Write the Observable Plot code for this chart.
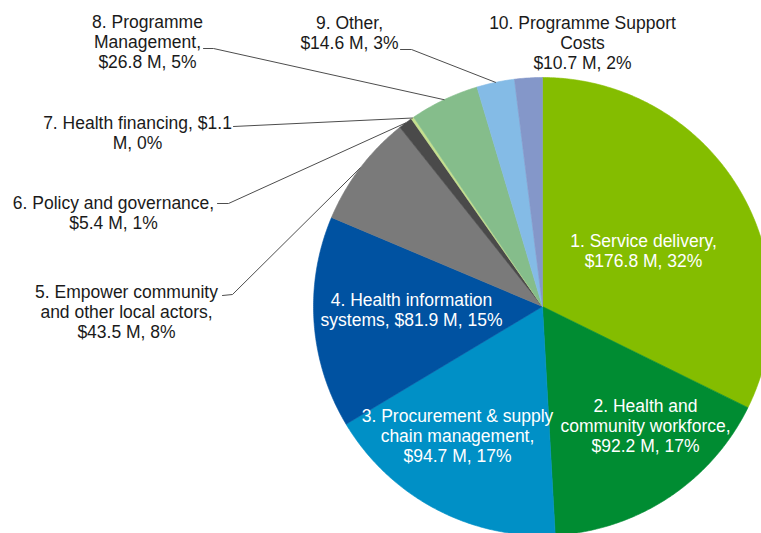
<!DOCTYPE html>
<html>
<head>
<meta charset="utf-8">
<script src="https://cdn.jsdelivr.net/npm/d3@7"></script>
<script src="https://cdn.jsdelivr.net/npm/@observablehq/plot@0.6"></script>
<style>
  html, body { margin: 0; padding: 0; background: #fff; overflow: hidden; }
  #chart svg { display: block; }
</style>
</head>
<body>
<div id="chart"></div>
<script>
// ---- data ----
const categories = [
  "1. Service delivery",
  "2. Health and community workforce",
  "3. Procurement & supply chain management",
  "4. Health information systems",
  "5. Empower community and other local actors",
  "6. Policy and governance",
  "7. Health financing",
  "8. Programme Management",
  "9. Other",
  "10. Programme Support Costs"
];
const values = [176.8, 92.2, 94.7, 81.9, 43.5, 5.4, 1.1, 26.8, 14.6, 10.7];
const shares = ["32%", "17%", "17%", "15%", "8%", "1%", "0%", "5%", "3%", "2%"];
const labelTexts = [
  "1. Service delivery,\n$176.8 M, 32%",
  "2. Health and\ncommunity workforce,\n$92.2 M, 17%",
  "3. Procurement & supply\nchain management,\n$94.7 M, 17%",
  "4. Health information\nsystems, $81.9 M, 15%",
  "5. Empower community\nand other local actors,\n$43.5 M, 8%",
  "6. Policy and governance,\n$5.4 M, 1%",
  "7. Health financing, $1.1\nM, 0%",
  "8. Programme\nManagement,\n$26.8 M, 5%",
  "9. Other,\n$14.6 M, 3%",
  "10. Programme Support\nCosts\n$10.7 M, 2%"
];
const colors = ["#84bd00", "#008c32", "#0090c6", "#0052a1", "#7a7a7a",
                "#4a4a4a", "#c4df8e", "#85bd8b", "#84bbe6", "#8497c9"];

// ---- layout (not data) ----
const cx = 542, cy = 306, R = 229;
const insideLabel = [true, true, true, true, false, false, false, false, false, false];
const labelPos = [[643, 250], [645, 425], [457, 435], [411, 309.5], [126, 311],
                  [113, 212], [137, 132], [147, 41], [349, 32], [582, 42]];
const leaderStart = [null, null, null, null, [[222, 295], [232, 294]], [[217, 203], [228, 203]],
                     [[233, 126]], [[203, 48], [213, 48]], [[400, 49], [411, 49]], null];

// ---- geometry from data ----
const arcs = d3.pie().sort(null).value(d => d)(values);
const pt = (a, r) => ({x: cx + r * Math.sin(a), y: cy - r * Math.cos(a)});

const slicePts = [];
arcs.forEach((a, i) => {
  const n = Math.max(2, Math.ceil((a.endAngle - a.startAngle) / (Math.PI / 360)));
  slicePts.push({cat: categories[i], ...pt(0, 0)});
  for (let k = 0; k <= n; k++) {
    const ang = a.startAngle + (a.endAngle - a.startAngle) * k / n;
    slicePts.push({cat: categories[i], ...pt(ang, R)});
  }
  slicePts.push({cat: categories[i], ...pt(0, 0)});
});

const leaderPts = [];
arcs.forEach((a, i) => {
  if (!leaderStart[i]) return;
  leaderStart[i].forEach(([x, y]) => leaderPts.push({k: i, x, y}));
  leaderPts.push({k: i, ...pt((a.startAngle + a.endAngle) / 2, R)});
});

const labels = labelTexts.map((t, i) => ({
  text: t, x: labelPos[i][0], y: labelPos[i][1], inside: insideLabel[i]
}));

const font = "'Liberation Sans', Arial, sans-serif";

const plot = Plot.plot({
  width: 761,
  height: 533,
  margin: 0,
  style: {background: "#fff", fontFamily: font},
  x: {domain: [0, 761], range: [0, 761], axis: null},
  y: {domain: [0, 533], range: [0, 533], axis: null},
  color: {domain: categories, range: colors},
  marks: [
    Plot.line(slicePts, {x: "x", y: "y", z: "cat", fill: "cat", stroke: "cat", strokeWidth: 0.6, clip: true}),
    Plot.line(leaderPts, {x: "x", y: "y", z: "k", stroke: "#4d4d4d", strokeWidth: 1}),
    Plot.text(labels.filter(d => d.inside), {
      x: "x", y: "y", text: "text", fill: "white", fontSize: 17.5, lineHeight: 20 / 17.5,
      textAnchor: "middle", fontFamily: font
    }),
    Plot.text(labels.filter(d => !d.inside), {
      x: "x", y: "y", text: "text", fill: "#1a1a1a", fontSize: 17.5, lineHeight: 20 / 17.5,
      textAnchor: "middle", fontFamily: font
    })
  ]
});
document.getElementById("chart").appendChild(plot);
</script>
</body>
</html>
